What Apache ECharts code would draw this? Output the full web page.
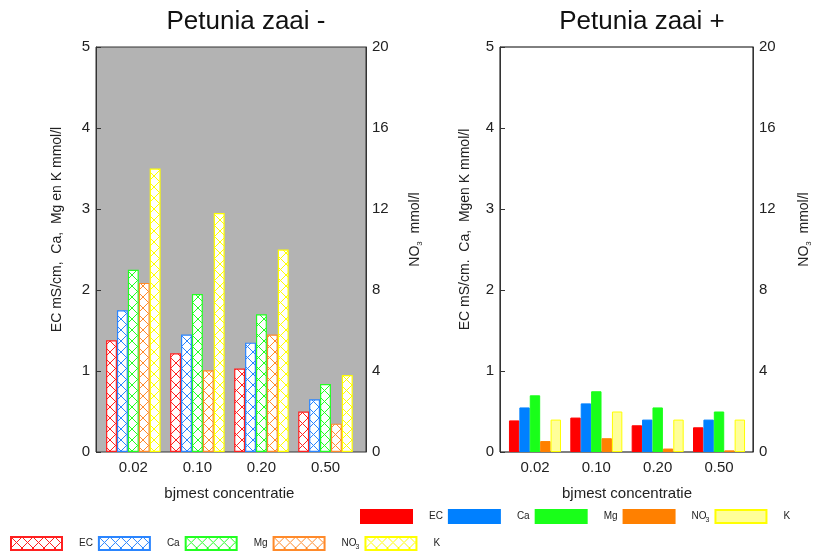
<!DOCTYPE html>
<html>
<head>
<meta charset="utf-8">
<script src="https://cdn.jsdelivr.net/npm/echarts@6/dist/echarts.min.js"></script>
<style>html,body{margin:0;padding:0;background:#fff}#c{width:814px;height:554px}</style>
</head>
<body>
<div id="c"></div>
<script>
// ---- data ----
const categories = ['0.02', '0.10', '0.20', '0.50'];
const seriesNames = ['EC', 'Ca', 'Mg', 'NO3', 'K'];
// Petunia zaai - (EC, Ca, Mg, K on left axis; NO3 on right axis)
const minEC  = [1.38, 1.22, 1.03, 0.50];
const minCa  = [1.75, 1.45, 1.35, 0.65];
const minMg  = [2.25, 1.95, 1.70, 0.84];
const minNO3 = [8.35, 4.04, 5.80, 1.40];
const minK   = [3.50, 2.95, 2.50, 0.95];
// Petunia zaai +
const plusEC  = [0.39, 0.425, 0.33, 0.305];
const plusCa  = [0.55, 0.60, 0.40, 0.40];
const plusMg  = [0.70, 0.75, 0.55, 0.50];
const plusNO3 = [0.54, 0.68, 0.17, 0.08];
const plusK   = [0.40, 0.50, 0.40, 0.40];
const leftTicks = [0, 1, 2, 3, 4, 5];
const rightTicks = [0, 4, 8, 12, 16, 20];

// ---- styles ----
const FONT = 'Liberation Sans';
const hatchColors = ['#ff2020', '#2a85ff', '#22ff22', '#ff8a2a', '#ffff00'];
const solidColors = ['#ff0000', '#0080ff', '#19ff19', '#ff8000', '#ffff99'];
const solidBorders = ['#ff0000', '#0080ff', '#19ff19', '#ff8000', '#ffff00'];

function hatch(color) {
  const s = 11;
  const c = document.createElement('canvas');
  c.width = s; c.height = s;
  const g = c.getContext('2d');
  g.fillStyle = '#ffffff';
  g.fillRect(0, 0, s, s);
  g.strokeStyle = color;
  g.lineWidth = 1;
  g.beginPath();
  g.moveTo(0, 0); g.lineTo(s, s);
  g.moveTo(s, 0); g.lineTo(0, s);
  g.stroke();
  return c;
}

const TOP = 47, H = 405;
const chart = echarts.init(document.getElementById('c'), null, {renderer: 'canvas'});

const labelStyle = {fontFamily: FONT, fontSize: 15, color: '#222'};
const nameStyleY = {fontFamily: FONT, fontSize: 14, color: '#222', padding: [0, 0, 0, 40],
  rich: {s: {fontFamily: FONT, fontSize: 8, padding: [10, 0, 0, 0], color: '#222'}}};

function frameY(gridIndex, pos, max, interval, name, nameGap, showTicks) {
  return {
    gridIndex, type: 'value', position: pos, min: 0, max, interval,
    axisLine: {show: true, lineStyle: {color: '#333', width: 1}},
    axisTick: {show: showTicks, inside: true, length: 5, lineStyle: {color: '#333'}},
    splitLine: {show: false},
    axisLabel: Object.assign({margin: 6}, labelStyle),
    name, nameLocation: 'middle', nameGap, nameRotate: 90,
    nameTextStyle: nameStyleY
  };
}
function hiddenY(gridIndex, pos, max) {
  return {gridIndex, type: 'value', position: pos, min: 0, max, show: false, splitLine: {show: false}};
}
function catX(gridIndex) {
  return {
    gridIndex, type: 'category', data: categories,
    axisLine: {show: false}, axisTick: {show: false},
    axisLabel: Object.assign({margin: 8}, labelStyle),
    name: 'bjmest concentratie', nameLocation: 'middle', nameGap: 34,
    nameTextStyle: {fontFamily: FONT, fontSize: 15, color: '#222'}
  };
}

const minData = [minEC, minCa, minMg, minNO3, minK];
const plusData = [plusEC, plusCa, plusMg, plusNO3, plusK];

const series = [];
seriesNames.forEach((n, i) => {
  series.push({
    name: n, type: 'bar', xAxisIndex: 1, yAxisIndex: n === 'NO3' ? 3 : 2,
    data: minData[i], barGap: '0%', barCategoryGap: '14.8%',
    itemStyle: {color: {image: hatch(hatchColors[i]), repeat: 'repeat'}, borderColor: hatchColors[i], borderWidth: 1.2},
    emphasis: {disabled: true}
  });
});
seriesNames.forEach((n, i) => {
  series.push({
    name: n + ' ', type: 'bar', xAxisIndex: 3, yAxisIndex: n === 'NO3' ? 7 : 6,
    data: plusData[i], barGap: '0%', barCategoryGap: '15.2%',
    itemStyle: {color: solidColors[i], borderColor: solidBorders[i], borderWidth: 1},
    emphasis: {disabled: true}
  });
});

const legendText = {
  fontFamily: FONT, fontSize: 10, color: '#222', padding: [0, 0, 0, 12],
  rich: {
    t: {fontFamily: FONT, fontSize: 10, color: '#222', width: 20},
    n: {fontFamily: FONT, fontSize: 10, color: '#222', width: 14},
    s: {fontFamily: FONT, fontSize: 7, padding: [7, 0, 0, 0], color: '#222', width: 6}
  }
};
const legendFormatter = n => { const t = n.trim(); return t === 'NO3' ? '{n|NO}{s|3}' : '{t|' + t + '}'; };

chart.setOption({
  animation: false,
  title: [
    {text: 'Petunia zaai -', left: 246, top: 9, textAlign: 'center', padding: 0,
     textStyle: {fontFamily: FONT, fontSize: 26, fontWeight: 'normal', color: '#111'}},
    {text: 'Petunia zaai +', left: 642, top: 9, textAlign: 'center', padding: 0,
     textStyle: {fontFamily: FONT, fontSize: 26, fontWeight: 'normal', color: '#111'}}
  ],
  grid: [
    {left: 96, top: TOP, width: 270, height: H, show: true, backgroundColor: '#b3b3b3', borderColor: '#333', borderWidth: 1},
    {left: 101.3, top: TOP, width: 256.2, height: H},
    {left: 500, top: TOP, width: 258, height: H, show: true, backgroundColor: '#ffffff', borderColor: '#000', borderWidth: 1},
    {left: 504.3, top: TOP, width: 245.4, height: H}
  ],
  xAxis: [
    {gridIndex: 0, type: 'value', min: 0, max: 1, show: false},
    catX(1),
    {gridIndex: 2, type: 'value', min: 0, max: 1, show: false},
    catX(3)
  ],
  yAxis: [
    frameY(0, 'left', 5, 1, 'EC mS/cm,  Ca,  Mg en K mmol/l', 32, true),
    frameY(0, 'right', 20, 4, 'NO{s|3}  mmol/l', 40, false),
    hiddenY(1, 'left', 5),
    hiddenY(1, 'right', 20),
    frameY(2, 'left', 5, 1, 'EC mS/cm.  Ca,  Mgen K mmol/l', 28, true),
    frameY(2, 'right', 20, 4, 'NO{s|3}  mmol/l', 42, false),
    hiddenY(3, 'left', 5),
    hiddenY(3, 'right', 20)
  ],
  legend: [
    {data: seriesNames, left: 10, top: 536, padding: 0, itemGap: 5, itemWidth: 51, itemHeight: 13,
     icon: 'rect', selectedMode: false, textStyle: legendText, formatter: legendFormatter},
    {data: seriesNames.map(n => n + ' '), left: 360, top: 509, padding: 0, itemGap: 5, itemWidth: 51, itemHeight: 13,
     icon: 'rect', selectedMode: false, textStyle: legendText, formatter: legendFormatter}
  ],
  series
});
</script>
</body>
</html>
